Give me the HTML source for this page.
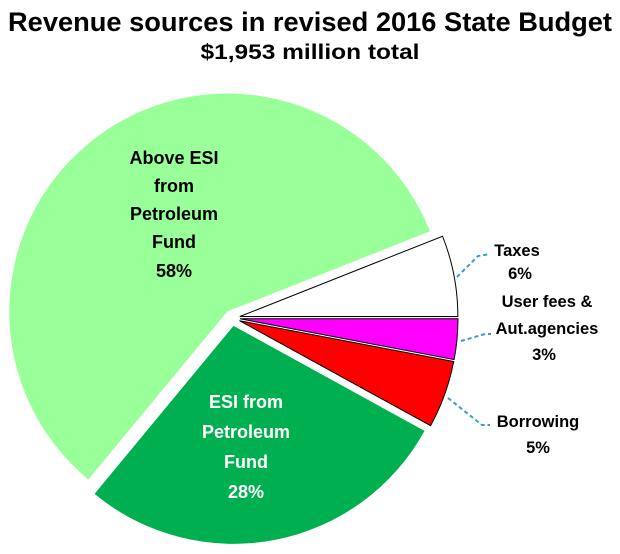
<!DOCTYPE html>
<html><head><meta charset="utf-8"><style>
body{margin:0;background:#fff}
svg text{font-family:"Liberation Sans",Arial,sans-serif;font-weight:bold}
</style></head><body>
<svg id="c" width="620" height="549">
<text x="310" y="31" text-anchor="middle" font-size="27" textLength="604" lengthAdjust="spacingAndGlyphs">Revenue sources in revised 2016 State Budget</text>
<text x="310" y="59" text-anchor="middle" font-size="21" textLength="219" lengthAdjust="spacingAndGlyphs">$1,953 million total</text>
<g id="slices"></g>
<g id="leaders" stroke="#3a9ad0" stroke-width="2" stroke-dasharray="4,3" fill="none">
<polyline points="457,277 478,256 490,254"/>
<polyline points="461,341 485,334 491,334"/>
<polyline points="448,398 482,425 490,425"/>
</g>
<g font-size="18" text-anchor="middle">
<text x="174" y="164"><tspan x="174">Above ESI</tspan><tspan x="174" dy="28">from</tspan><tspan x="174" dy="28">Petroleum</tspan><tspan x="174" dy="28">Fund</tspan><tspan x="174" dy="29">58%</tspan></text>
<text x="246" y="408" fill="#fff"><tspan x="246">ESI from</tspan><tspan x="246" dy="30">Petroleum</tspan><tspan x="246" dy="30">Fund</tspan><tspan x="246" dy="30">28%</tspan></text>
</g>
<g font-size="16.5" text-anchor="middle">
<text x="517" y="256"><tspan x="517">Taxes</tspan><tspan x="520" dy="23">6%</tspan></text>
<text x="547" y="307"><tspan x="547">User fees &amp;</tspan><tspan x="547" dy="27">Aut.agencies</tspan><tspan x="544" dy="26">3%</tspan></text>
<text x="538" y="427"><tspan x="538">Borrowing</tspan><tspan x="538" dy="26">5%</tspan></text>
</g>
</svg>
<script>
const categories=["Taxes","User fees & Aut.agencies","Borrowing","ESI from Petroleum Fund","Above ESI from Petroleum Fund"];
const values=[6,3,5,28,58];
const colors=["#ffffff","#ff00ff","#ff0000","#00b050","#99ff99"];
const names=["slice-taxes","slice-user-fees","slice-borrowing","slice-esi","slice-above-esi"];
const cx=232,cy=318,r=218,ex=8;
const total=values.reduce((a,b)=>a+b,0);
const g=document.getElementById('slices');
let a0=-values[0]/total*2*Math.PI;
for(let i=0;i<values.length;i++){
  const sw=values[i]/total*2*Math.PI, a1=a0+sw, m=(a0+a1)/2;
  const ox=cx+ex*Math.cos(m), oy=cy+ex*Math.sin(m);
  const x0=ox+r*Math.cos(a0),y0=oy+r*Math.sin(a0),x1=ox+r*Math.cos(a1),y1=oy+r*Math.sin(a1);
  const p=document.createElementNS('http://www.w3.org/2000/svg','path');
  p.setAttribute('d',`M${ox},${oy}L${x0},${y0}A${r},${r} 0 ${sw>Math.PI?1:0} 1 ${x1},${y1}Z`);
  p.setAttribute('fill',colors[i]);
  if(i<3){p.setAttribute('stroke','#000');p.setAttribute('stroke-width','1');}
  
  
  g.appendChild(p);
  a0=a1;
}
</script>
</body></html>
